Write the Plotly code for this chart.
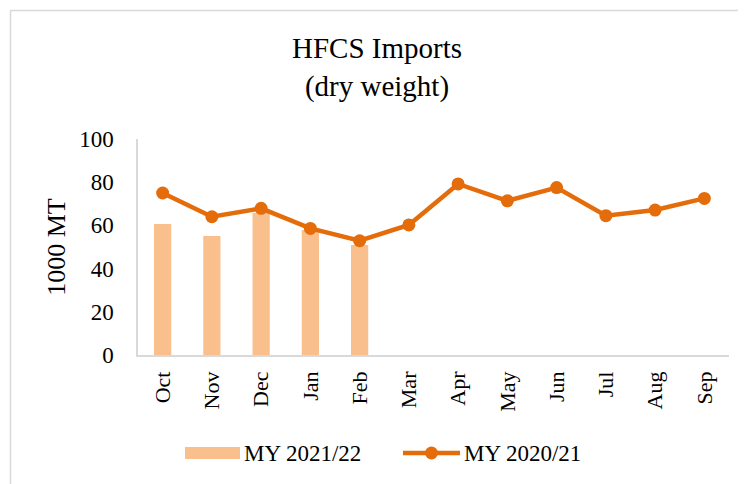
import plotly.graph_objects as go

months = ["Oct", "Nov", "Dec", "Jan", "Feb", "Mar", "Apr", "May", "Jun", "Jul", "Aug", "Sep"]
my_2021_22 = [60.6, 55.1, 65.9, 57.9, 50.9]
my_2020_21 = [75.0, 64.0, 67.9, 58.6, 52.9, 60.2, 79.2, 71.4, 77.5, 64.5, 67.1, 72.5]
series_names = ["MY 2021/22", "MY 2020/21"]

BAR_COLOR = "#F9C08E"
LINE_COLOR = "#E46C0A"

W, H = 746, 484
OFF = 8  # page body margin
# target page-pixel positions of the plot area
PX0, PX1, PY0, PY1 = 138, 729, 139, 355
L, T = PX0 - OFF, PY0 - OFF
R = W - (PX1 - OFF)
B = H - (PY1 - OFF)
pw, ph = PX1 - PX0, PY1 - PY0

font = "Liberation Serif, Times New Roman, serif"


def xp(px):
    return (px - PX0) / pw


def yp(py):
    return (PY1 - py) / ph


fig = go.Figure()
fig.add_trace(go.Bar(
    x=months[:len(my_2021_22)], y=my_2021_22, name=series_names[0],
    marker=dict(color=BAR_COLOR, line=dict(width=0)), width=0.35,
))
fig.add_trace(go.Scatter(
    x=months, y=my_2020_21, name=series_names[1], mode="lines+markers",
    line=dict(color=LINE_COLOR, width=4.5),
    marker=dict(color=LINE_COLOR, size=13),
))

# outer chart border
fig.add_shape(type="rect", xref="paper", yref="paper",
              x0=xp(10.5), x1=xp(W + 20), y0=yp(10.5), y1=yp(H + 20),
              line=dict(color="#D9D9D9", width=1.5), fillcolor="rgba(0,0,0,0)", layer="below")

# manual legend (wide swatch like the original)
LY = 453
fig.add_shape(type="rect", xref="paper", yref="paper",
              x0=xp(185), x1=xp(240), y0=yp(LY - 6), y1=yp(LY + 6),
              line=dict(width=0), fillcolor=BAR_COLOR)
fig.add_shape(type="line", xref="paper", yref="paper",
              x0=xp(403), x1=xp(460), y0=yp(LY), y1=yp(LY),
              line=dict(color=LINE_COLOR, width=4.5))
fig.add_shape(type="circle", xref="paper", yref="paper",
              x0=xp(431.5 - 6.5), x1=xp(431.5 + 6.5), y0=yp(LY - 6.5), y1=yp(LY + 6.5),
              line=dict(width=0), fillcolor=LINE_COLOR)
for name, x0 in zip(series_names, [242, 462]):
    fig.add_annotation(text=name, xref="paper", yref="paper", x=xp(x0), y=yp(LY),
                       xanchor="left", yanchor="middle", showarrow=False,
                       font=dict(family=font, size=23, color="black"))

fig.update_layout(
    width=W, height=H,
    margin=dict(l=L, r=R, t=T, b=B),
    paper_bgcolor="white", plot_bgcolor="white",
    font=dict(family=font, size=22, color="black"),
    title=dict(text="HFCS Imports<br>(dry weight)", x=0.5 - OFF / W / 2, xref="container", xanchor="center",
               y=1 - 50 / H, yref="container", yanchor="middle",
               font=dict(family=font, size=29, color="black")),
    showlegend=False,
    bargap=0.3,
)
fig.update_xaxes(
    categoryorder="array", categoryarray=months, range=[-0.5, 11.5],
    showline=True, linecolor="#D9D9D9", linewidth=1.5, showgrid=False,
    tickangle=-90, ticks="", ticklabelstandoff=6,
    tickfont=dict(family=font, size=22, color="black"),
)
fig.update_yaxes(
    range=[0, 100], dtick=20, showline=True, linecolor="#D9D9D9", linewidth=1.5,
    showgrid=False, zeroline=False, ticks="", ticklabelstandoff=18,
    tickfont=dict(family=font, size=23, color="black"),
    title=dict(text="1000 MT", standoff=6, font=dict(family=font, size=26, color="black")),
)

fig.write_html("out.html")
